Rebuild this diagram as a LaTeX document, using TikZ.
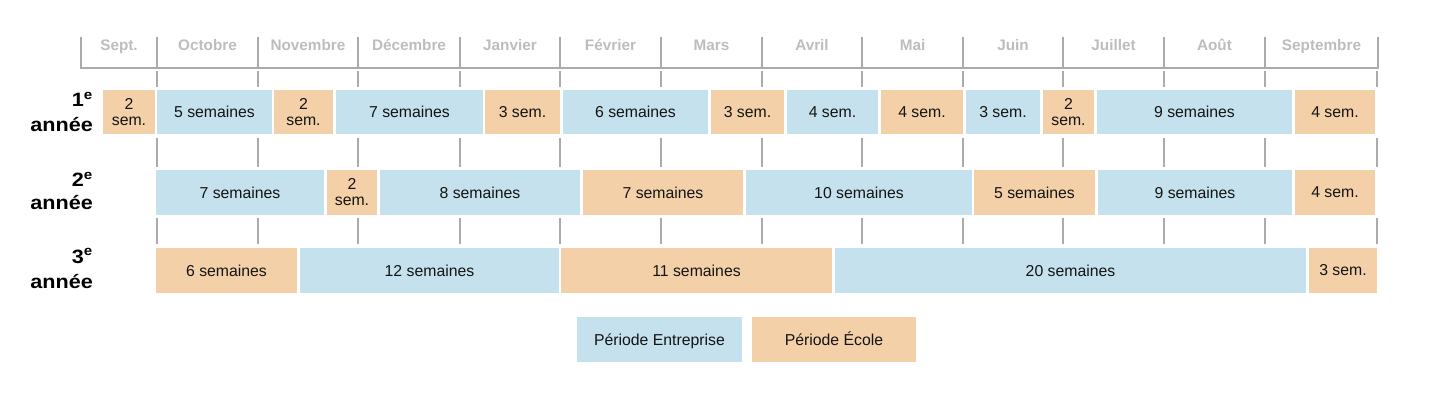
\documentclass[tikz,border=0pt]{standalone}
\usepackage{fontspec}
\setmainfont{Liberation Sans}
\newfontfamily\anneefont[FakeStretch=1.12]{Liberation Sans}
\definecolor{couleurEntr}{HTML}{C4E1ED}
\definecolor{couleurEcol}{HTML}{F3D0A8}
\definecolor{grille}{HTML}{ABABAB}
\definecolor{moisgris}{HTML}{BDBDBD}

\begin{document}
\begin{tikzpicture}[x=1pt,y=-1pt,
							bloc/.style = {inner sep=0pt, align=center, text=black!92, font=\fontsize{15.8}{16}\selectfont},
							entr/.style = {bloc, fill=couleurEntr},
							ecol/.style = {bloc, fill=couleurEcol},
							legende/.style = {minimum width=165pt, minimum height=45pt, text height=11.3pt, text depth=0pt},
							moislabel/.style = {anchor=base, text=moisgris, font=\bfseries\fontsize{15.3}{17}\selectfont},
							annee/.style = {anchor=base east, inner sep=0pt, font=\anneefont\bfseries\fontsize{19.3}{21}\selectfont},
							trait/.style = {grille, line width=1.6pt}
						]
						\useasboundingbox (0,0) rectangle (1440,414);
						% en-tete des mois
						\foreach \x in {81,157,258,358,460,560,661,762,862,963,1063,1164,1265,1378}{ \draw[trait] (\x,37) -- (\x,68);}
						\draw[trait, line width=2pt] (80,68) -- (1379,68);
						\foreach \a/\b/\m[count=\i] in {81/157/Sept., 157/258/Octobre, 258/358/Novembre, 358/460/Décembre, 460/560/Janvier, 560/661/Février, 661/762/Mars, 762/862/Avril, 862/963/Mai, 963/1063/Juin, 1063/1164/Juillet, 1164/1265/Août, 1265/1378/Septembre}{ \node[moislabel] (m\i) at ({(\a+\b)/2},51) {\m};}
						% graduations entre les lignes
						\foreach \ya/\yb in {71/87, 138/167, 218/244}{
							\foreach \x in {157,258,358,460,560,661,762,862,963,1063,1164,1265,1377}{ \draw[trait] (\x,\ya) -- (\x,\yb);}}
						% annees
						\node[annee] (an1) at (93,107) {1\textsuperscript{e}};
						\node[annee] (an1b) at (93,132) {année};
						\node[annee] (an2) at (93,187) {2\textsuperscript{e}};
						\node[annee] (an2b) at (93,210) {année};
						\node[annee] (an3) at (93,263) {3\textsuperscript{e}};
						\node[annee] (an3b) at (93,288) {année};
						% 1re annee
						\foreach \a/\b/\t/\s[count=\i] in {103/155/{2\\sem.}/ecol, 157/272/{5 semaines}/entr, 274/333/{2\\sem.}/ecol, 336/483/{7 semaines}/entr, 485/560/{3 sem.}/ecol, 563/708/{6 semaines}/entr, 711/784/{3 sem.}/ecol, 787/878/{4 sem.}/entr, 881/963/{4 sem.}/ecol, 966/1040/{3 sem.}/entr, 1043/1094/{2\\sem.}/ecol, 1097/1292/{9 semaines}/entr, 1295/1375/{4 sem.}/ecol}{ \node[\s, minimum width={(\b-\a)*1pt}, minimum height=44pt] (un\i) at ({(\a+\b)/2},112) {\t};}
						% 2e annee
						\foreach \a/\b/\t/\s[count=\i] in {156/324/{7 semaines}/entr, 327/377/{2\\sem.}/ecol, 380/580/{8 semaines}/entr, 583/743/{7 semaines}/ecol, 746/972/{10 semaines}/entr, 974/1095/{5 semaines}/ecol, 1098/1292/{9 semaines}/entr, 1295/1375/{4 sem.}/ecol}{ \node[\s, minimum width={(\b-\a)*1pt}, minimum height=45pt] (deux\i) at ({(\a+\b)/2},192.5) {\t};}
						% 3e annee
						\foreach \a/\b/\t/\s[count=\i] in {156/297/{6 semaines}/ecol, 300/559/{12 semaines}/entr, 561/832/{11 semaines}/ecol, 835/1306/{20 semaines}/entr, 1309/1377/{3 sem.}/ecol}{ \node[\s, minimum width={(\b-\a)*1pt}, minimum height=45pt] (trois\i) at ({(\a+\b)/2},270.5) {\t};}
						% legende
						\node[entr, legende] (legEntr) at (659.5,339.5) {Période Entreprise};
						\node[ecol, legende, minimum width=164pt] (legEcol) at (834,339.5) {Période École};
					\end{tikzpicture}
\end{document}
